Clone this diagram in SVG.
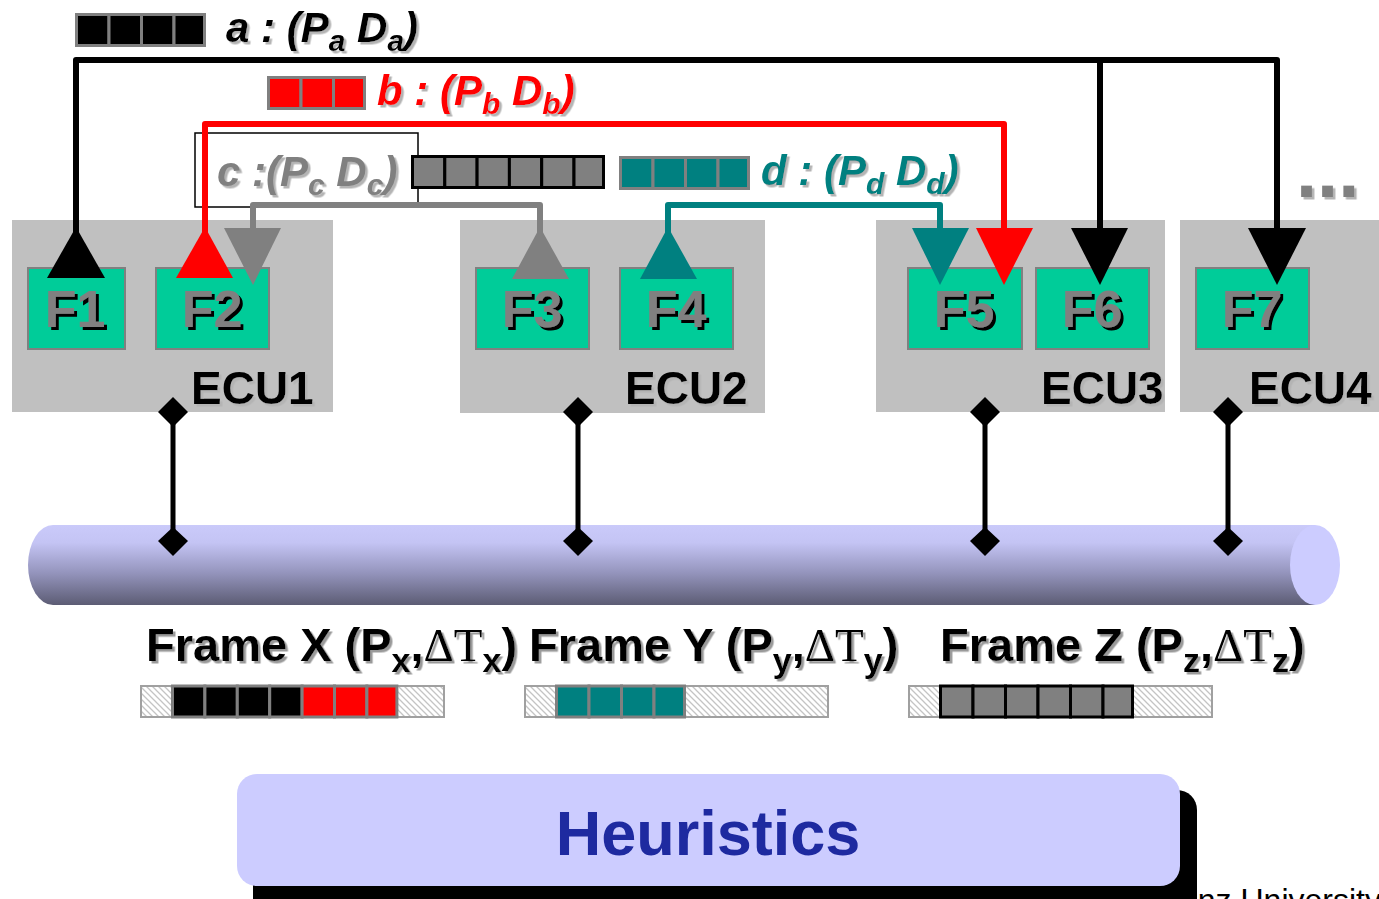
<svg xmlns="http://www.w3.org/2000/svg" width="1379" height="899" viewBox="0 0 1379 899">
<defs>
<style>
.ecu{fill:#c0c0c0}
.fbox{fill:#00cc99;stroke:#808080;stroke-width:2}
.flab{font-family:"Liberation Sans",Arial,sans-serif;font-weight:bold;font-size:52px;fill:#808080;text-anchor:middle}
.elab{font-family:"Liberation Sans",Arial,sans-serif;font-weight:bold;font-size:46px;fill:#000}
.msg{font-family:"Liberation Sans",Arial,sans-serif;font-weight:bold;font-style:italic;font-size:42px}
.sub{font-size:30px}
.frm{font-family:"Liberation Sans",Arial,sans-serif;font-weight:bold;font-size:47px;fill:#000}
.fsub{font-size:34px}
.dt{font-family:"Liberation Serif","Times New Roman",serif;font-weight:normal}
.ln{fill:none;stroke-width:6;stroke-linejoin:round}
.sqg{stroke:#808080;stroke-width:3}
.sqk{stroke:#000;stroke-width:3}
.hatch{fill:url(#hp);stroke:#a0a0a0;stroke-width:2}
.bus{stroke:#000;stroke-width:5}
</style>
<pattern id="hp" patternUnits="userSpaceOnUse" width="6" height="6">
<rect width="6" height="6" fill="#fff"/>
<path d="M-1,-1 L7,7 M-1,5 L1,7 M5,-1 L7,1" stroke="#c4c4c4" stroke-width="1.3"/>
</pattern>
<linearGradient id="busg" x1="0" y1="0" x2="0" y2="1">
<stop offset="0" stop-color="#cacafa"/>
<stop offset="0.22" stop-color="#c4c4f4"/>
<stop offset="0.6" stop-color="#9494bc"/>
<stop offset="1" stop-color="#5c5c74"/>
</linearGradient>
<filter id="shL" x="-10%" y="-20%" width="130%" height="150%">
<feDropShadow dx="2.5" dy="2.5" stdDeviation="0.4" flood-color="#b4b4b4" flood-opacity="1"/>
</filter>
<filter id="shD" x="-10%" y="-20%" width="130%" height="150%">
<feDropShadow dx="3" dy="3" stdDeviation="0" flood-color="#000" flood-opacity="1"/>
</filter>
<filter id="shG" x="-10%" y="-20%" width="130%" height="150%">
<feDropShadow dx="2.5" dy="2.5" stdDeviation="0.5" flood-color="#9a9a9a" flood-opacity="1"/>
</filter>
</defs>
<rect width="1379" height="899" fill="#fff"/>

<!-- bus -->
<g id="bus">
<path d="M53,525 H1315 V605 H53 A25,40 0 0 1 53,525 Z" fill="url(#busg)"/>
<ellipse cx="1315" cy="565" rx="25" ry="40" fill="#ccccff"/>
</g>

<!-- ECUs -->
<g id="ecu1">
<rect class="ecu" x="12" y="220" width="321" height="192"/>
<text class="elab" x="191" y="404" filter="url(#shL)">ECU1</text>
</g>
<g id="ecu2">
<rect class="ecu" x="460" y="220" width="305" height="193"/>
<text class="elab" x="625" y="404" filter="url(#shL)">ECU2</text>
</g>
<g id="ecu3">
<rect class="ecu" x="876" y="220" width="289" height="192"/>
<text class="elab" x="1041" y="404" filter="url(#shL)">ECU3</text>
</g>
<g id="ecu4">
<rect class="ecu" x="1180" y="220" width="199" height="192"/>
<text class="elab" x="1249" y="404" filter="url(#shL)">ECU4</text>
</g>

<g id="f1"><rect class="fbox" x="28" y="268" width="97" height="81"/><text class="flab" x="75" y="327" filter="url(#shD)">F1</text></g>
<g id="f2"><rect class="fbox" x="156" y="268" width="113" height="81"/><text class="flab" x="212" y="327" filter="url(#shD)">F2</text></g>
<g id="f3"><rect class="fbox" x="476" y="268" width="113" height="81"/><text class="flab" x="532" y="327" filter="url(#shD)">F3</text></g>
<g id="f4"><rect class="fbox" x="620" y="268" width="113" height="81"/><text class="flab" x="676" y="327" filter="url(#shD)">F4</text></g>
<g id="f5"><rect class="fbox" x="908" y="268" width="114" height="81"/><text class="flab" x="964" y="327" filter="url(#shD)">F5</text></g>
<g id="f6"><rect class="fbox" x="1036" y="268" width="113" height="81"/><text class="flab" x="1092" y="327" filter="url(#shD)">F6</text></g>
<g id="f7"><rect class="fbox" x="1196" y="268" width="113" height="81"/><text class="flab" x="1252" y="327" filter="url(#shD)">F7</text></g>

<!-- message legends -->
<g id="msg-a">
<rect class="sqg" x="76.5" y="14.5" width="32.5" height="31" fill="#000"/>
<rect class="sqg" x="109" y="14.5" width="32.5" height="31" fill="#000"/>
<rect class="sqg" x="141.5" y="14.5" width="32.5" height="31" fill="#000"/>
<rect class="sqg" x="174" y="14.5" width="30.5" height="31" fill="#000"/>
<text class="msg" x="226" y="42" fill="#000" filter="url(#shL)">a : (P<tspan class="sub" dy="9">a</tspan><tspan dy="-9"> D</tspan><tspan class="sub" dy="9">a</tspan><tspan dy="-9">)</tspan></text>
</g>
<g id="msg-b">
<rect class="sqg" x="268.5" y="77.5" width="32.5" height="31" fill="#ff0000"/>
<rect class="sqg" x="301" y="77.5" width="32.5" height="31" fill="#ff0000"/>
<rect class="sqg" x="333.5" y="77.5" width="31" height="31" fill="#ff0000"/>
<text class="msg" x="377" y="105" fill="#ff0000" filter="url(#shL)">b : (P<tspan class="sub" dy="9">b</tspan><tspan dy="-9"> D</tspan><tspan class="sub" dy="9">b</tspan><tspan dy="-9">)</tspan></text>
</g>
<g id="msg-c">
<rect x="195" y="133" width="223" height="74" fill="none" stroke="#000" stroke-width="1.5"/>
<rect class="sqk" x="412.5" y="156.5" width="32.3" height="31" fill="#808080"/>
<rect class="sqk" x="444.8" y="156.5" width="32.3" height="31" fill="#808080"/>
<rect class="sqk" x="477.1" y="156.5" width="32.3" height="31" fill="#808080"/>
<rect class="sqk" x="509.4" y="156.5" width="32.3" height="31" fill="#808080"/>
<rect class="sqk" x="541.7" y="156.5" width="32.3" height="31" fill="#808080"/>
<rect class="sqk" x="574" y="156.5" width="29.5" height="31" fill="#808080"/>
<text class="msg" x="217" y="186" fill="#808080" filter="url(#shL)">c :(P<tspan class="sub" dy="9">c</tspan><tspan dy="-9"> D</tspan><tspan class="sub" dy="9">c</tspan><tspan dy="-9">)</tspan></text>
</g>
<g id="msg-d">
<rect class="sqg" x="620.5" y="157.5" width="32.5" height="31" fill="#008080"/>
<rect class="sqg" x="653" y="157.5" width="32.5" height="31" fill="#008080"/>
<rect class="sqg" x="685.5" y="157.5" width="32.5" height="31" fill="#008080"/>
<rect class="sqg" x="718" y="157.5" width="30.5" height="31" fill="#008080"/>
<text class="msg" x="761" y="185" fill="#008080" filter="url(#shL)">d : (P<tspan class="sub" dy="9">d</tspan><tspan dy="-9"> D</tspan><tspan class="sub" dy="9">d</tspan><tspan dy="-9">)</tspan></text>
</g>
<g id="more">
<text x="1296" y="197" font-family="Liberation Sans,Arial,sans-serif" font-weight="bold" font-size="76" fill="#808080" filter="url(#shL)">...</text>
</g>

<!-- connectors -->
<g id="connectors">
<path class="ln" stroke="#000" d="M76,235 V60 H1277 V235 M1100,60 V235"/>
<polygon points="76,227 47,278 105,278" fill="#000"/>
<polygon points="1071,228 1128,228 1100,285" fill="#000"/>
<polygon points="1248,228 1306,228 1277,285" fill="#000"/>
<path class="ln" stroke="#ff0000" d="M205,235 V124 H1004 V235"/>
<polygon points="205,227 176,278 233,278" fill="#ff0000"/>
<polygon points="976,228 1033,228 1004,285" fill="#ff0000"/>
<path class="ln" stroke="#808080" d="M253,235 V205 H540 V235"/>
<polygon points="224,228 281,228 253,285" fill="#808080"/>
<polygon points="540,227 512,279 569,279" fill="#808080"/>
<path class="ln" stroke="#008080" d="M668,235 V205 H940 V235"/>
<polygon points="668,227 640,279 697,279" fill="#008080"/>
<polygon points="912,228 969,228 940,285" fill="#008080"/>
<path class="bus" d="M173,412 V541 M578,412 V541 M985,412 V541 M1228,412 V541"/>
<g fill="#000">
<polygon points="173,397 188,412 173,427 158,412"/>
<polygon points="578,397 593,412 578,427 563,412"/>
<polygon points="985,397 1000,412 985,427 970,412"/>
<polygon points="1228,397 1243,412 1228,427 1213,412"/>
<polygon points="173,527 188,541 173,556 158,541"/>
<polygon points="578,527 593,541 578,556 563,541"/>
<polygon points="985,527 1000,541 985,556 970,541"/>
<polygon points="1228,527 1243,541 1228,556 1213,541"/>
</g>
</g>

<!-- frames -->
<g id="frame-x">
<text class="frm" x="146" y="661" filter="url(#shG)">Frame X (P<tspan class="fsub" dy="11">x</tspan><tspan dy="-11">,</tspan><tspan class="dt">ΔT</tspan><tspan class="fsub" dy="11">x</tspan><tspan dy="-11">)</tspan></text>
<rect class="hatch" x="141" y="686" width="303" height="31"/>
<rect class="sqg" x="172.5" y="686" width="32.4" height="31" fill="#000"/>
<rect class="sqg" x="204.9" y="686" width="32.4" height="31" fill="#000"/>
<rect class="sqg" x="237.3" y="686" width="32.4" height="31" fill="#000"/>
<rect class="sqg" x="269.7" y="686" width="32.4" height="31" fill="#000"/>
<rect class="sqg" x="302.1" y="686" width="32.4" height="31" fill="#ff0000"/>
<rect class="sqg" x="334.5" y="686" width="32.4" height="31" fill="#ff0000"/>
<rect class="sqg" x="366.9" y="686" width="30" height="31" fill="#ff0000"/>
</g>
<g id="frame-y">
<text class="frm" x="529" y="661" filter="url(#shG)">Frame Y (P<tspan class="fsub" dy="11">y</tspan><tspan dy="-11">,</tspan><tspan class="dt">ΔT</tspan><tspan class="fsub" dy="11">y</tspan><tspan dy="-11">)</tspan></text>
<rect class="hatch" x="525" y="686" width="303" height="31"/>
<rect class="sqg" x="556.5" y="686" width="32.5" height="31" fill="#008080"/>
<rect class="sqg" x="589" y="686" width="32.5" height="31" fill="#008080"/>
<rect class="sqg" x="621.5" y="686" width="32.5" height="31" fill="#008080"/>
<rect class="sqg" x="654" y="686" width="30.5" height="31" fill="#008080"/>
</g>
<g id="frame-z">
<text class="frm" x="940" y="661" filter="url(#shG)">Frame Z (P<tspan class="fsub" dy="11">z</tspan><tspan dy="-11">,</tspan><tspan class="dt">ΔT</tspan><tspan class="fsub" dy="11">z</tspan><tspan dy="-11">)</tspan></text>
<rect class="hatch" x="909" y="686" width="303" height="31"/>
<rect class="sqk" x="940.5" y="686" width="32.5" height="31" fill="#808080"/>
<rect class="sqk" x="973" y="686" width="32.5" height="31" fill="#808080"/>
<rect class="sqk" x="1005.5" y="686" width="32.5" height="31" fill="#808080"/>
<rect class="sqk" x="1038" y="686" width="32.5" height="31" fill="#808080"/>
<rect class="sqk" x="1070.5" y="686" width="32.5" height="31" fill="#808080"/>
<rect class="sqk" x="1103" y="686" width="29.5" height="31" fill="#808080"/>
</g>

<!-- footer -->
<text x="1180" y="911" font-family="Liberation Sans,Arial,sans-serif" font-size="32" fill="#000">enz University</text>
<g id="heuristics">
<rect x="253" y="790" width="944" height="130" rx="20" fill="#000"/>
<rect x="237" y="774" width="943" height="112" rx="20" fill="#ccccff"/>
<text x="708" y="855" text-anchor="middle" font-family="Liberation Sans,Arial,sans-serif" font-weight="bold" font-size="63" fill="#1e2aa0">Heuristics</text>
</g>
</svg>
